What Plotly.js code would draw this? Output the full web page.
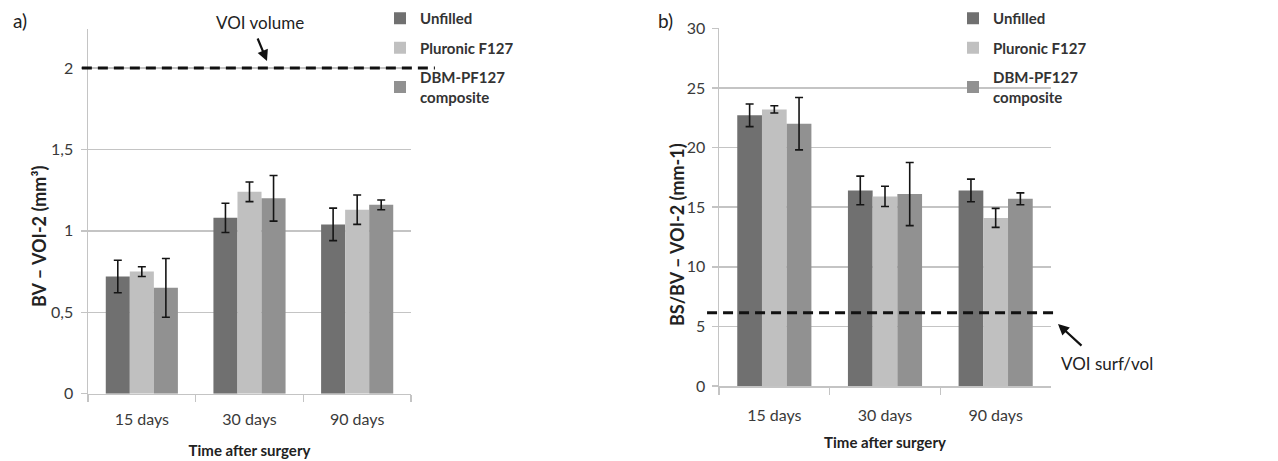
<!DOCTYPE html>
<html>
<head>
<meta charset="utf-8">
<script src="https://cdn.plot.ly/plotly-3.0.1.min.js"></script>
<style>html,body{margin:0;padding:0;background:#fff;}#chart{width:1278px;height:461px;}</style>
</head>
<body>
<div id="chart"></div>
<script>
// ---- data ----
const categories = ['15 days', '30 days', '90 days'];
const seriesNames = ['Unfilled', 'Pluronic F127', 'DBM-PF127<br>composite'];

const bvUnfilled = [0.72, 1.08, 1.04];
const bvUnfilledErr = [0.10, 0.09, 0.10];
const bvPluronic = [0.75, 1.24, 1.13];
const bvPluronicErr = [0.03, 0.06, 0.09];
const bvDBM = [0.65, 1.20, 1.16];
const bvDBMErr = [0.18, 0.14, 0.03];

const bsUnfilled = [22.7, 16.4, 16.4];
const bsUnfilledErr = [0.95, 1.2, 0.95];
const bsPluronic = [23.2, 15.9, 14.1];
const bsPluronicErr = [0.3, 0.85, 0.8];
const bsDBM = [22.0, 16.1, 15.7];
const bsDBMErr = [2.2, 2.65, 0.5];

const voiVolume = 2.0;
const voiSurfVol = 6.15;

// ---- styles ----
const W = 1278, H = 461;
const colors = ['#707070', '#c0c0c0', '#919191'];
const FONT = 'Lato, "Open Sans", sans-serif';
const px = v => v / W;
const py = v => 1 - v / H;

function bar(y, err, i, xa, ya, leg) {
  return {
    type: 'bar', x: categories, y: y, name: seriesNames[i],
    xaxis: xa, yaxis: ya, legend: leg, legendgroup: leg + i,
    marker: {color: colors[i], line: {width: 0}},
    error_y: {type: 'data', array: err, visible: true, color: '#151515', thickness: 1.6, width: 4},
    hoverinfo: 'skip'
  };
}

const data = [
  bar(bvUnfilled, bvUnfilledErr, 0, 'x', 'y', 'legend'),
  bar(bvPluronic, bvPluronicErr, 1, 'x', 'y', 'legend'),
  bar(bvDBM, bvDBMErr, 2, 'x', 'y', 'legend'),
  bar(bsUnfilled, bsUnfilledErr, 0, 'x2', 'y2', 'legend2'),
  bar(bsPluronic, bsPluronicErr, 1, 'x2', 'y2', 'legend2'),
  bar(bsDBM, bsDBMErr, 2, 'x2', 'y2', 'legend2')
];

const gridC = '#c4c4c4';
const tickFont = {family: FONT, size: 16, color: '#3a3a3a'};
const titleFont = {family: FONT, size: 15, color: '#222', weight: 'bold'};

function xax(domain, standoff, lblStand) {
  return {
    domain: domain, type: 'category', showline: true, linecolor: gridC, linewidth: 1.5,
    ticks: 'outside', tickson: 'boundaries', ticklen: 7, tickcolor: gridC, tickwidth: 1.5,
    ticklabelstandoff: lblStand,
    tickfont: tickFont, showgrid: false, zeroline: false, fixedrange: true,
    title: {text: 'Time after surgery', font: titleFont, standoff: standoff}
  };
}
function yax(domain, range, dtick, lblStand) {
  return {
    domain: domain, range: range, dtick: dtick, tick0: 0,
    showline: true, linecolor: gridC, linewidth: 1.5,
    showgrid: true, gridcolor: gridC, gridwidth: 1.5,
    ticks: 'outside', ticklen: 6, tickcolor: gridC, tickwidth: 1.5,
    ticklabelstandoff: lblStand,
    tickfont: tickFont, zeroline: false, fixedrange: true
  };
}

const legendCommon = {
  font: {family: FONT, size: 15, color: '#333', weight: 'bold'},
  bgcolor: 'rgba(0,0,0,0)', borderwidth: 0, traceorder: 'grouped',
  tracegroupgap: 7, yanchor: 'top', xanchor: 'left', itemclick: false, itemdoubleclick: false
};

function txt(x, y, text, size, extra) {
  return Object.assign({xref: 'paper', yref: 'paper', x: px(x), y: py(y), text: text, showarrow: false,
    xanchor: 'center', yanchor: 'middle', font: {family: FONT, size: size, color: '#222'}}, extra || {});
}

const layout = {
  width: W, height: H,
  margin: {l: 0, r: 0, t: 0, b: 0},
  paper_bgcolor: '#fff', plot_bgcolor: 'rgba(0,0,0,0)',
  separators: ',.',
  barmode: 'group', bargap: 0.33, bargroupgap: 0,
  showlegend: true,
  font: {family: FONT, color: '#333'},
  xaxis: xax([px(88), px(411)], 18, 11),
  yaxis: yax([1 - 393.7 / H, 1 - 29 / H], [0, 2.24], 0.5, 4),
  xaxis2: Object.assign(xax([px(719), px(1051)], 15, 14), {anchor: 'y2'}),
  yaxis2: Object.assign(yax([1 - 386 / H, 1 - 28.3 / H], [0, 30], 5, 3), {anchor: 'x2'}),
  legend: Object.assign({x: px(380), y: py(2)}, legendCommon),
  legend2: Object.assign({x: px(953), y: py(2)}, legendCommon),
  shapes: [
    {type: 'line', xref: 'x domain', yref: 'y', x0: -0.019, x1: 1.074, y0: voiVolume, y1: voiVolume,
     line: {color: '#111', width: 3, dash: '10px,6px'}, layer: 'above'},
    {type: 'line', xref: 'x2 domain', yref: 'y2', x0: -0.036, x1: 1.012, y0: voiSurfVol, y1: voiSurfVol,
     line: {color: '#111', width: 3, dash: '10px,6px'}, layer: 'above'}
  ],
  annotations: [
    txt(20, 20, 'a)', 19),
    txt(665, 20, 'b)', 19),
    txt(39, 237, '<b>BV – VOI-2 (mm³)</b>', 18, {textangle: -90}),
    txt(677, 235, '<b>BS/BV – VOI-2 (mm-1)</b>', 18, {textangle: -90}),
    txt(260, 22, 'VOI volume', 17),
    {xref: 'paper', yref: 'paper', x: px(267), y: py(61), text: '', showarrow: true,
     ax: -10, ay: -24, arrowhead: 2, arrowsize: 1, arrowwidth: 2.2, arrowcolor: '#111'},
    txt(1107, 363, 'VOI surf/vol', 17),
    {xref: 'paper', yref: 'paper', x: px(1058), y: py(324), text: '', showarrow: true,
     ax: 25, ay: 23, arrowhead: 2, arrowsize: 1, arrowwidth: 2.2, arrowcolor: '#111'}
  ]
};

Plotly.newPlot('chart', data, layout, {displayModeBar: false, staticPlot: true});
</script>
</body>
</html>
